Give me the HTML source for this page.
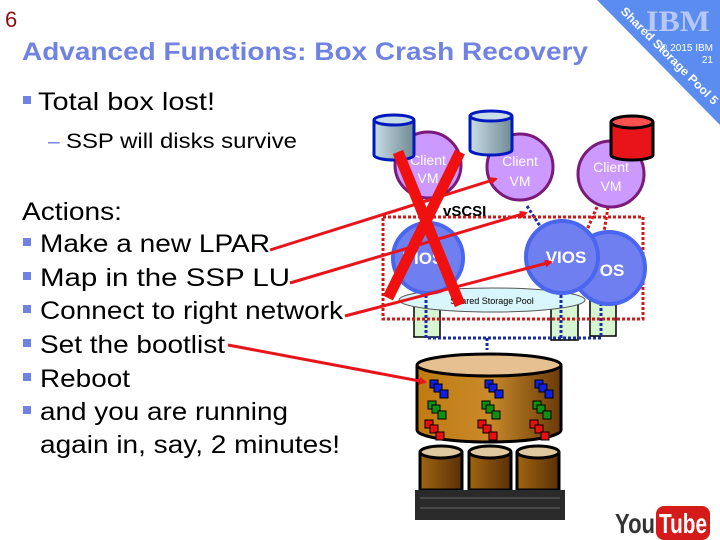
<!DOCTYPE html>
<html><head><meta charset="utf-8"><style>
html,body{margin:0;padding:0;background:#fff;width:720px;height:540px;overflow:hidden}
svg{display:block;font-family:"Liberation Sans",Arial,sans-serif}
</style></head><body>
<svg width="720" height="540" viewBox="0 0 720 540" xmlns="http://www.w3.org/2000/svg">
<defs>
<linearGradient id="cyl" x1="0" x2="1"><stop offset="0" stop-color="#c9dde6"/><stop offset="1" stop-color="#6f8a95"/></linearGradient>
<linearGradient id="brn" x1="0" x2="1"><stop offset="0" stop-color="#c07a10"/><stop offset="0.5" stop-color="#c98a2a"/><stop offset="1" stop-color="#6a3a08"/></linearGradient>
<linearGradient id="brn2" x1="0" x2="1"><stop offset="0" stop-color="#a0650f"/><stop offset="1" stop-color="#5a3008"/></linearGradient>
<marker id="ah" markerWidth="8" markerHeight="8" refX="6" refY="4" orient="auto" markerUnits="userSpaceOnUse"><path d="M0,0 L8,4 L0,8 z" fill="#e8141a"/></marker>
</defs>
<!-- corner triangle -->
<polygon points="597,0 720,0 720,125" fill="#5b8cf0"/>
<text x="646" y="31" font-size="30" font-weight="bold" fill="#b8c8f6" textLength="64" lengthAdjust="spacingAndGlyphs" font-family="Liberation Serif,serif">IBM</text>
<text x="713" y="51" font-size="10" fill="#fff" text-anchor="end">© 2015 IBM</text>
<text x="713" y="63" font-size="10" fill="#fff" text-anchor="end">21</text>
<text x="0" y="0" font-size="12" font-weight="bold" fill="#fff" textLength="132" lengthAdjust="spacingAndGlyphs" transform="translate(620,12) rotate(45)">Shared Storage Pool 5</text>
<text x="5" y="27" font-size="22" fill="#8a1010">6</text>
<text x="22" y="60" font-size="25" font-weight="bold" fill="#7082e2" textLength="566" lengthAdjust="spacingAndGlyphs">Advanced Functions: Box Crash Recovery</text>
<rect x="23" y="96" width="8" height="8" fill="#7082e2"/>
<text x="38" y="110" font-size="25" textLength="177" lengthAdjust="spacingAndGlyphs">Total box lost!</text>
<text x="48" y="148" font-size="21" fill="#7082e2">–</text>
<text x="66" y="148" font-size="21" textLength="231" lengthAdjust="spacingAndGlyphs">SSP will disks survive</text>
<g font-size="25">
<text x="22" y="220" textLength="100" lengthAdjust="spacingAndGlyphs">Actions:</text>
<g fill="#7082e2"><rect x="23" y="238" width="8" height="8"/><rect x="23" y="272" width="8" height="8"/><rect x="23" y="305" width="8" height="8"/><rect x="23" y="339" width="8" height="8"/><rect x="23" y="373" width="8" height="8"/><rect x="23" y="406" width="8" height="8"/></g>
<text x="40" y="252" textLength="230" lengthAdjust="spacingAndGlyphs">Make a new LPAR</text>
<text x="40" y="286" textLength="250" lengthAdjust="spacingAndGlyphs">Map in the SSP LU</text>
<text x="40" y="319" textLength="303" lengthAdjust="spacingAndGlyphs">Connect to right network</text>
<text x="40" y="353" textLength="185" lengthAdjust="spacingAndGlyphs">Set the bootlist</text>
<text x="40" y="387" textLength="90" lengthAdjust="spacingAndGlyphs">Reboot</text>
<text x="40" y="420" textLength="248" lengthAdjust="spacingAndGlyphs">and you are running</text>
<text x="40" y="453" textLength="300" lengthAdjust="spacingAndGlyphs">again in, say, 2 minutes!</text>
</g>
<!-- pillars -->
<g fill="#d6f5d0" stroke="#000" stroke-width="1.5">
<rect x="414" y="300" width="26" height="37"/><rect x="551" y="300" width="27" height="40"/><rect x="590" y="300" width="26" height="36"/>
</g>
<!-- cloud -->
<ellipse cx="492" cy="300" rx="93" ry="12" fill="#d8f6fb" stroke="#555" stroke-width="1"/>
<text x="492" y="304" font-size="9" text-anchor="middle">Shared Storage Pool</text>
<!-- blue dotted -->
<g stroke="#1a2aa8" stroke-width="3" stroke-dasharray="3,2" fill="none">
<path d="M426,295 V338 H601 V295"/><path d="M561,295 V338"/><path d="M487,338 V350"/>
<path d="M527,206 L540,226"/>
</g>
<g stroke="#d01818" stroke-width="3" stroke-dasharray="3,2" fill="none">
<rect x="383" y="217" width="260" height="102"/>
<path d="M597,207 L587,230"/><path d="M608,207 L604,232"/>
</g>
<!-- VIOS -->
<g fill="#6f7ff0" stroke="#4a66ee" stroke-width="4">
<circle cx="428" cy="258" r="35"/>
<circle cx="609" cy="268" r="36"/>
<circle cx="562" cy="257" r="36"/>
</g>
<g fill="#fff" font-weight="bold" font-size="17" text-anchor="middle">
<text x="423" y="264">VIOS</text><text x="566" y="263">VIOS</text><text x="612" y="276">OS</text>
</g>
<!-- client VMs -->
<g fill="#cc99ff" stroke="#7a1a7a" stroke-width="3">
<circle cx="428" cy="165" r="33"/><circle cx="520" cy="167" r="33"/><circle cx="611" cy="174" r="33"/>
</g>
<g fill="#fff" font-size="14" text-anchor="middle">
<text x="428" y="165">Client</text><text x="428" y="183">VM</text>
<text x="520" y="166">Client</text><text x="520" y="186">VM</text>
<text x="611" y="172">Client</text><text x="611" y="191">VM</text>
</g>
<text x="443" y="216" font-size="15" font-weight="bold">vSCSI</text>
<!-- small cylinders -->
<g stroke="#0018c0" stroke-width="3">
<path d="M374,120 V155 A20,5 0 0 0 414,155 V120" fill="url(#cyl)"/><ellipse cx="394" cy="120" rx="20" ry="5" fill="#c9dde6"/>
<path d="M470,116 V150 A21,5 0 0 0 512,150 V116" fill="url(#cyl)"/><ellipse cx="491" cy="116" rx="21" ry="5" fill="#c9dde6"/>
</g>
<g stroke="#000" stroke-width="3">
<path d="M611,122 V155 A21,5 0 0 0 653,155 V122" fill="#e8141a"/><ellipse cx="632" cy="122" rx="21" ry="6" fill="#ff5050"/>
</g>
<!-- big storage -->
<path d="M417,365 V430 A72,12 0 0 0 561,430 V365" fill="url(#brn)" stroke="#000" stroke-width="3"/>
<ellipse cx="489" cy="365" rx="72" ry="11" fill="#e6c090" stroke="#000" stroke-width="3"/>
<g stroke="#000" stroke-width="1">
<g fill="#1020e0"><rect x="430" y="380" width="8" height="8"/><rect x="434" y="384" width="8" height="8"/><rect x="440" y="390" width="8" height="8"/>
<rect x="485" y="380" width="8" height="8"/><rect x="489" y="384" width="8" height="8"/><rect x="495" y="390" width="8" height="8"/>
<rect x="535" y="380" width="8" height="8"/><rect x="539" y="384" width="8" height="8"/><rect x="545" y="390" width="8" height="8"/></g>
<g fill="#109010"><rect x="428" y="401" width="8" height="8"/><rect x="432" y="405" width="8" height="8"/><rect x="438" y="411" width="8" height="8"/>
<rect x="482" y="401" width="8" height="8"/><rect x="486" y="405" width="8" height="8"/><rect x="492" y="411" width="8" height="8"/>
<rect x="533" y="401" width="8" height="8"/><rect x="537" y="405" width="8" height="8"/><rect x="543" y="411" width="8" height="8"/></g>
<g fill="#e81010"><rect x="425" y="420" width="8" height="8"/><rect x="430" y="425" width="8" height="8"/><rect x="436" y="432" width="8" height="8"/>
<rect x="478" y="420" width="8" height="8"/><rect x="483" y="425" width="8" height="8"/><rect x="489" y="432" width="8" height="8"/>
<rect x="530" y="420" width="8" height="8"/><rect x="535" y="425" width="8" height="8"/><rect x="541" y="432" width="8" height="8"/></g>
</g>
<!-- small disks -->
<g stroke="#000" stroke-width="3" fill="url(#brn2)">
<path d="M420,452 V490 H462 V452"/><path d="M469,452 V490 H511 V452"/><path d="M517,452 V490 H559 V452"/>
</g>
<g stroke="#000" stroke-width="3" fill="#e0c8a0">
<ellipse cx="441" cy="452" rx="21" ry="6"/><ellipse cx="490" cy="452" rx="21" ry="6"/><ellipse cx="538" cy="452" rx="21" ry="6"/>
</g>
<rect x="415" y="490" width="150" height="30" fill="#2a2a2a"/>
<g stroke="#666" stroke-width="1">
<path d="M420,498 H560 M420,508 H560"/>
</g>
<!-- red arrows -->
<g stroke="#e8141a" stroke-width="3" marker-end="url(#ah)">
<line x1="270" y1="250" x2="496" y2="179"/>
<line x1="290" y1="283" x2="526" y2="213"/>
<line x1="345" y1="316" x2="551" y2="262"/>
<line x1="228" y1="345" x2="425" y2="382"/>
</g>
<!-- red X -->
<g stroke="#f01010" stroke-width="11" stroke-linecap="butt">
<line x1="398" y1="152" x2="460" y2="305"/>
<line x1="460" y1="152" x2="388" y2="298"/>
</g>
<!-- YouTube -->
<text x="615" y="533" font-size="28" font-weight="bold" fill="#333" textLength="40" lengthAdjust="spacingAndGlyphs">You</text>
<rect x="656" y="506" width="54" height="34" rx="8" fill="#d51a1a"/>
<text x="659" y="533" font-size="28" font-weight="bold" fill="#fff" textLength="48" lengthAdjust="spacingAndGlyphs">Tube</text>
</svg>
</body></html>
